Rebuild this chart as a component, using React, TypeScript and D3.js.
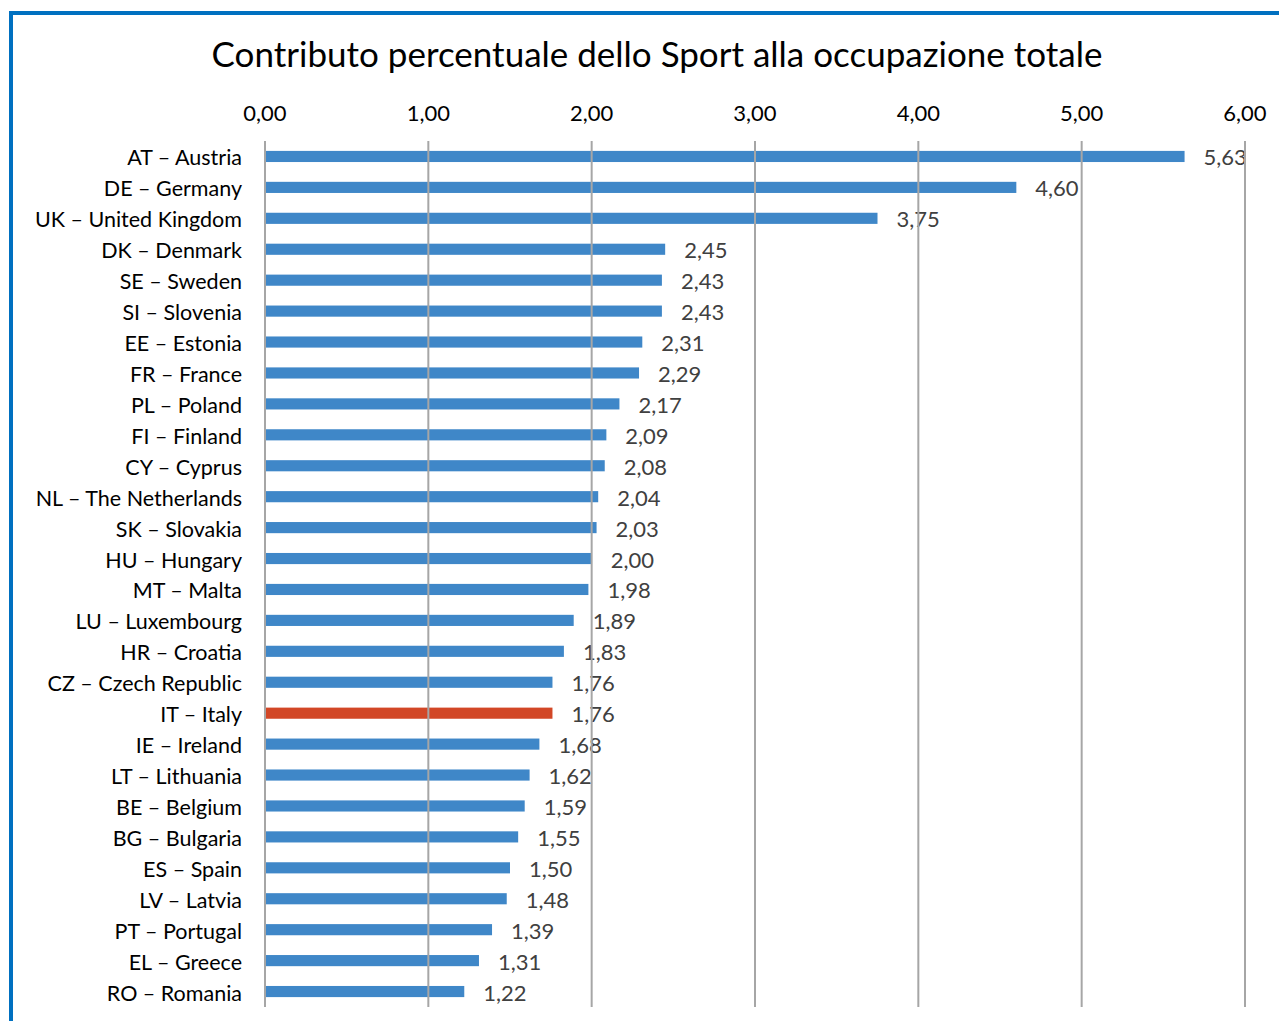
import React from "react";
import * as d3 from "d3";

const categories = [
  "AT – Austria", "DE – Germany", "UK – United Kingdom", "DK – Denmark", "SE – Sweden",
  "SI – Slovenia", "EE – Estonia", "FR – France", "PL – Poland", "FI – Finland",
  "CY – Cyprus", "NL – The Netherlands", "SK – Slovakia", "HU – Hungary", "MT – Malta",
  "LU – Luxembourg", "HR – Croatia", "CZ – Czech Republic", "IT – Italy", "IE – Ireland",
  "LT – Lithuania", "BE – Belgium", "BG – Bulgaria", "ES – Spain", "LV – Latvia",
  "PT – Portugal", "EL – Greece", "RO – Romania",
];
const values = [
  5.63, 4.6, 3.75, 2.45, 2.43, 2.43, 2.31, 2.29, 2.17, 2.09, 2.08, 2.04, 2.03, 2.0,
  1.98, 1.89, 1.83, 1.76, 1.76, 1.68, 1.62, 1.59, 1.55, 1.5, 1.48, 1.39, 1.31, 1.22,
];
const highlight = ["IT – Italy"];
const ticks = [0, 1, 2, 3, 4, 5, 6];
const title = "Contributo percentuale dello Sport alla occupazione totale";

const W = 1279;
const H = 1021;
const FONT = "Lato, 'Open Sans', sans-serif";

export default function App() {
  const x = d3.scaleLinear().domain([0, 6]).range([265, 1245]);
  const y = d3.scaleBand<string>().domain(categories).range([141, 1007]).paddingInner(0.64).paddingOuter(0.32);
  const fmt = (v: number) => v.toFixed(2).replace(".", ",");
  return (
    <svg width={W} height={H} style={{ position: "absolute", left: 0, top: 0, display: "block" }}>
      <rect x={0} y={0} width={W} height={H} fill="#fff" />
      {/* border */}
      <line x1={9} x2={W} y1={13} y2={13} stroke="#0070C0" strokeWidth={4} />
      <line x1={11} x2={11} y1={11} y2={H} stroke="#0070C0" strokeWidth={4} />
      <text x={657} y={67} textAnchor="middle" fontFamily={FONT} fontSize={35} fill="#000">{title}</text>
      {ticks.map((t) => (
        <text key={"t" + t} x={x(t)} y={121} textAnchor="middle" fontFamily={FONT} fontSize={22} fill="#000">{fmt(t)}</text>
      ))}
      {categories.map((c, i) => (
        <g key={c}>
          <rect x={x(0)} y={y(c)} width={x(values[i]) - x(0)} height={y.bandwidth()}
            fill={highlight.includes(c) ? "#D24726" : "#3F87C8"} />
          <text x={242} y={(y(c) as number) + y.bandwidth() / 2 + 9} textAnchor="end" fontFamily={FONT} fontSize={21.5} fill="#000">{c}</text>
          <text x={x(values[i]) + 19} y={(y(c) as number) + y.bandwidth() / 2 + 9} textAnchor="start" fontFamily={FONT} fontSize={22} fill="#404040">{fmt(values[i])}</text>
        </g>
      ))}
      {ticks.map((t) => (
        <line key={"g" + t} x1={x(t)} x2={x(t)} y1={141} y2={1007} stroke="#A6A6A6" strokeWidth={2} />
      ))}
    </svg>
  );
}
